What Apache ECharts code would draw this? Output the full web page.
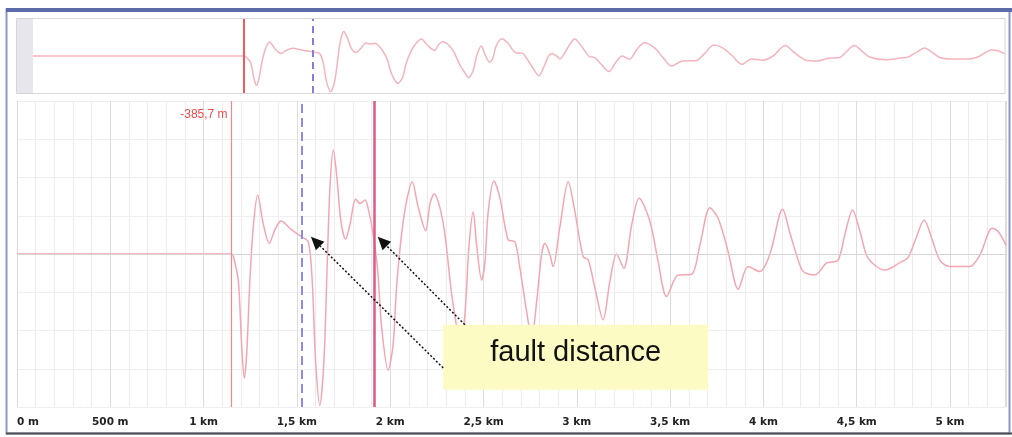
<!DOCTYPE html>
<html>
<head>
<meta charset="utf-8">
<script src="https://cdn.jsdelivr.net/npm/echarts@6/dist/echarts.min.js"></script>
<style>html,body{margin:0;padding:0;background:#fff}#c{width:1012px;height:437px}</style>
</head>
<body>
<div id="c"></div>
<script>
// ---- data (distance in metres, reflection amplitude) ----
const distances = [0,1150,1159,1186,1204,1218,1231,1248,1266,1290,1320,1352,1382,1415,1472,1525,1561,1582,1600,1623,1645,1663,1677,1695,1713,1736,1761,1784,1815,1838,1865,1886,1909,1933,1954,1989,2016,2034,2061,2088,2118,2150,2190,2213,2236,2266,2293,2329,2356,2374,2400,2422,2445,2463,2490,2508,2525,2556,2588,2632,2668,2695,2731,2758,2785,2811,2829,2856,2873,2909,2954,2990,3034,3061,3097,3141,3177,3213,3252,3294,3334,3392,3436,3481,3543,3615,3660,3713,3758,3811,3865,3918,3981,4035,4103,4142,4178,4213,4276,4338,4400,4436,4478,4517,4561,4651,4740,4774,4817,4861,4903,4945,4999,5106,5160,5226,5256,5300];
const signal = [0,0,-0.05,-0.7,-2.4,-3.25,-2.6,-0.7,0.7,1.54,0.78,0.28,0.63,0.86,0.63,0.45,0.32,-0.7,-2.78,-3.96,-2.78,-0.17,1.74,2.72,2.07,0.85,0.39,0.76,1.44,1.32,1.41,1.1,0.5,-0.43,-1.91,-3.04,-2.35,-0.87,0.52,1.39,1.89,1.22,0.61,1.31,1.57,1.22,0.52,-1.04,-1.9,-2.4,-1.6,0.2,1.1,0.24,-0.68,-0.2,1.1,1.91,1.46,0.37,0.32,-0.37,-1.5,-2.2,-1.24,-0.02,0.28,-0.02,-0.33,0.7,1.89,1.1,-0.07,-0.15,-0.89,-1.72,-0.72,0.0,-0.37,0.76,1.46,0.85,-0.2,-1.11,-0.55,-0.53,0.24,1.21,0.93,0.06,-0.92,-0.33,-0.46,0,1.17,0.55,-0.03,-0.46,-0.55,-0.24,-0.16,0.5,1.15,0.6,-0.11,-0.42,-0.2,-0.1,0.4,0.89,0.4,-0.16,-0.33,-0.33,-0.03,0.67,0.6,0.23];
const tickLabels = ['0 m','500 m','1 km','1,5 km','2 km','2,5 km','3 km','3,5 km','4 km','4,5 km','5 km'];
const cursorStart = 1150;   // thin red cursor (trace start)
const cursorBlue = 1527;    // blue dashed cursor
const cursorRed = 1913;     // red cursor
const deltaLabel = '-385,7 m';
const noteText = 'fault distance';
// annotation anchors in data coords [distance, amplitude]
const arrowTips = [[1575, 0.45], [1933, 0.45]];
const arrowTails = [[2284, -2.98], [2400, -1.85]];
const noteBox = [[2284, -1.85], [3704, -3.55]];

const pts = distances.map((d, i) => [d, signal[i]]);
const chart = echarts.init(document.getElementById('c'), null, {renderer: 'canvas'});

const option = {
  animation: false,
  backgroundColor: '#ffffff',
  grid: [
    {left: 33, right: 7, top: 19, height: 74},
    {left: 17, right: 6, top: 101, height: 306}
  ],
  xAxis: [
    {gridIndex: 0, type: 'value', min: 0, max: 5300, show: false},
    {gridIndex: 1, type: 'value', min: 0, max: 5300, interval: 500,
      axisLine: {show: false}, axisTick: {show: false},
      axisLabel: {show: true, margin: 10, color: '#222', fontFamily: 'DejaVu Sans', fontWeight: 'bold', fontSize: 10.5,
        showMaxLabel: false, alignMinLabel: 'left',
        formatter: v => tickLabels[Math.round(v / 500)] || ''},
      splitLine: {show: true, lineStyle: {color: '#e0dcdc', width: 1}},
      minorTick: {show: false, splitNumber: 5},
      minorSplitLine: {show: true, lineStyle: {color: '#f3e8ea', width: 1}}
    }
  ],
  yAxis: [
    {gridIndex: 0, type: 'value', min: -4.1, max: 4.1, show: false},
    {gridIndex: 1, type: 'value', min: -4, max: 4, interval: 1,
      axisLine: {show: false}, axisTick: {show: false}, axisLabel: {show: false},
      splitLine: {show: true, lineStyle: {color: '#efefef', width: 1}}
    }
  ],
  series: [
    {type: 'line', xAxisIndex: 0, yAxisIndex: 0, data: pts, smooth: 0.3, showSymbol: false, silent: true,
      lineStyle: {color: '#f5b4bc', width: 1.5}, clip: true,
      markLine: {symbol: 'none', silent: true, label: {show: false},
        data: [
          {xAxis: cursorStart, lineStyle: {color: '#f25a5a', width: 2, type: 'solid'}},
          {xAxis: cursorBlue, lineStyle: {color: '#7f7fe0', width: 2, type: [7, 5]}}
        ]}
    },
    {type: 'line', xAxisIndex: 1, yAxisIndex: 1, data: pts, smooth: 0.3, showSymbol: false, silent: true,
      lineStyle: {color: '#f4a6b0', width: 1.5}, clip: true, z: 3,
      markLine: {symbol: 'none', silent: true, label: {show: false},
        data: [
          {yAxis: 0, lineStyle: {color: '#d4d4d4', width: 1, type: 'solid'}},
          {xAxis: cursorBlue, lineStyle: {color: '#8a8af2', width: 2, type: [9, 5]}},
          {xAxis: cursorRed, lineStyle: {color: '#d95b88', width: 2.5, type: 'solid'}}
        ]}
    },
    {type: 'line', xAxisIndex: 1, yAxisIndex: 1, data: [], silent: true, z: 2,
      markLine: {symbol: 'none', silent: true, label: {show: false},
        data: [{xAxis: cursorStart, lineStyle: {color: '#f28a8a', width: 1.2, type: 'solid', opacity: 1}}]}
    }
  ]
};
chart.setOption(option);

function px(p) { return chart.convertToPixel({xAxisIndex: 1, yAxisIndex: 1}, p); }

const graphics = [];
// outer window frame
graphics.push({type: 'rect', silent: true, z: 50, shape: {x: 6.5, y: 9.5, width: 1003, height: 424},
  style: {fill: null, stroke: '#8c98c6', lineWidth: 2}});
graphics.push({type: 'rect', silent: true, z: 51, shape: {x: 6, y: 8, width: 1006, height: 4},
  style: {fill: '#5b6aa8'}});
graphics.push({type: 'line', silent: true, z: 51, shape: {x1: 6, y1: 433.5, x2: 1012, y2: 433.5},
  style: {stroke: '#4e4e4e', lineWidth: 2}});
// overview box
graphics.push({type: 'rect', silent: true, z: 1, shape: {x: 17, y: 19, width: 16, height: 74},
  style: {fill: '#e6e6ec'}});
graphics.push({type: 'rect', silent: true, z: 40, shape: {x: 16.5, y: 18.5, width: 988.5, height: 75},
  style: {fill: null, stroke: '#d6d6da', lineWidth: 1}});
// plot right edge
graphics.push({type: 'line', silent: true, z: 2, shape: {x1: 1005.5, y1: 101, x2: 1005.5, y2: 407},
  style: {stroke: '#dcdcdc', lineWidth: 1}});

// delta label next to start cursor
const sPx = px([cursorStart, 4]);
graphics.push({type: 'text', silent: true, z: 20, x: sPx[0] - 4, y: sPx[1] + 14,
  style: {text: deltaLabel, fill: '#f04a4a', font: '12px "Liberation Sans", Arial', align: 'right', verticalAlign: 'middle'}});

// note box
const b0 = px(noteBox[0]), b1 = px(noteBox[1]);
graphics.push({type: 'rect', silent: true, z: 30, shape: {x: b0[0], y: b0[1], width: b1[0] - b0[0], height: b1[1] - b0[1]},
  style: {fill: '#fdfbc4'}});
graphics.push({type: 'text', silent: true, z: 31, x: (b0[0] + b1[0]) / 2, y: (b0[1] + b1[1]) / 2 - 4,
  style: {text: noteText, fill: '#111', font: '29px "Liberation Sans", Arial', align: 'center', verticalAlign: 'middle'}});

// dotted arrows
arrowTips.forEach((tip, i) => {
  const t = px(tip), s = px(arrowTails[i]);
  const dx = t[0] - s[0], dy = t[1] - s[1];
  const len = Math.hypot(dx, dy), ux = dx / len, uy = dy / len;
  const hl = 13, hw = 6;
  const bx = t[0] - ux * hl, by = t[1] - uy * hl;
  graphics.push({type: 'line', silent: true, z: 32, shape: {x1: s[0], y1: s[1], x2: bx, y2: by},
    style: {stroke: '#111', lineWidth: 1.5, lineDash: [2, 2]}});
  graphics.push({type: 'polygon', silent: true, z: 32,
    shape: {points: [[t[0], t[1]], [bx - uy * hw, by + ux * hw], [bx + uy * hw, by - ux * hw]]},
    style: {fill: '#111'}});
});

chart.setOption({graphic: graphics});
</script>
</body>
</html>
